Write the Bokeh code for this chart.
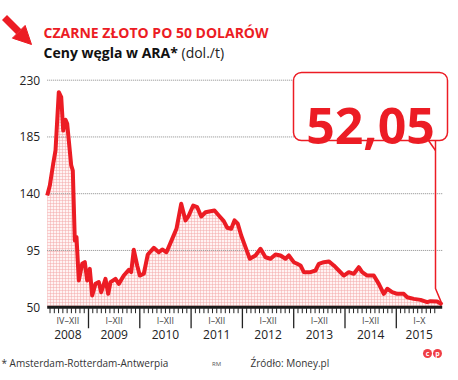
import numpy as np
from bokeh.plotting import figure
from bokeh.models import Arrow, NormalHead
from bokeh.core.properties import value
from bokeh.embed import file_html
from bokeh.resources import INLINE

# ---------------- data ----------------
title = "CZARNE ZŁOTO PO 50 DOLARÓW"
subtitle_bold = "Ceny węgla w ARA*"
subtitle_unit = "(dol./t)"
footnote = "* Amsterdam-Rotterdam-Antwerpia"
author = "RM"
source = "Źródło: Money.pl"

# time in decimal years, coal price in USD/t (ARA)
t = [2008.195, 2008.246, 2008.312, 2008.357, 2008.421, 2008.468, 2008.507, 2008.552,
     2008.585, 2008.616, 2008.663, 2008.694, 2008.733, 2008.766, 2008.811, 2008.877,
     2008.928, 2008.975, 2009.025, 2009.072, 2009.136, 2009.201, 2009.248, 2009.331,
     2009.384, 2009.429, 2009.526, 2009.591, 2009.688, 2009.786, 2009.832, 2009.883,
     2009.949, 2010.000, 2010.078, 2010.156, 2010.273, 2010.370, 2010.437, 2010.520,
     2010.632, 2010.715, 2010.807, 2010.891, 2010.955, 2011.041, 2011.119, 2011.197,
     2011.281, 2011.378, 2011.456, 2011.540, 2011.637, 2011.704, 2011.782, 2011.846,
     2011.910, 2011.977, 2012.060, 2012.144, 2012.255, 2012.353, 2012.450, 2012.548,
     2012.645, 2012.743, 2012.840, 2012.905, 2013.002, 2013.068, 2013.133, 2013.197,
     2013.327, 2013.425, 2013.489, 2013.587, 2013.684, 2013.782, 2013.879, 2013.977,
     2014.074, 2014.172, 2014.269, 2014.335, 2014.433, 2014.561, 2014.659, 2014.756,
     2014.823, 2014.920, 2015.018, 2015.146, 2015.212, 2015.341, 2015.472, 2015.602,
     2015.667, 2015.797, 2015.895]
price = [138.6, 146.5, 163.7, 174.3, 220.5, 216.5, 190.1, 198.6,
         195.4, 182.2, 162.4, 158.4, 102.9, 105.6, 71.2, 84.4,
         85.7, 71.2, 80.4, 59.3, 68.5, 69.9, 61.9, 72.5,
         60.6, 69.9, 72.5, 68.5, 75.1, 79.6, 77.8, 95.5,
         83.1, 75.1, 76.5, 91.8, 97.1, 93.6, 95.8, 93.6,
         104.2, 112.2, 132.0, 118.8, 122.7, 130.6, 129.3, 121.9,
         125.3, 126.1, 126.7, 122.7, 118.2, 113.0, 112.2, 118.8,
         116.2, 106.9, 97.6, 88.4, 91.0, 96.3, 89.6, 88.4,
         91.8, 91.0, 88.4, 91.0, 85.7, 84.4, 83.1, 77.8,
         77.8, 79.1, 84.4, 85.7, 86.3, 83.1, 79.1, 75.1,
         77.8, 76.5, 81.7, 77.8, 75.1, 75.1, 68.5, 60.6,
         64.6, 62.0, 60.6, 60.6, 57.9, 56.6, 55.8, 54.0,
         54.8, 54.5, 52.05]

years = [2008, 2009, 2010, 2011, 2012, 2013, 2014, 2015]
year_months = ["IV–XII", "I–XII", "I–XII", "I–XII", "I–XII", "I–XII", "I–XII", "I–X"]
y_ticks = [50, 95, 140, 185, 230]

# ---------------- layout helpers ----------------
W, H = 458, 380
PX_YEAR = 51.3          # pixels per year
PX_UNIT = 227.0 / 180   # pixels per USD
XL = 2009 - 88 / PX_YEAR
YT = 50 + 306.7 / PX_UNIT
x_range = (XL, XL + W / PX_YEAR)
y_range = (YT - H / PX_UNIT, YT)

def sx(X):  # picture pixel -> data x
    return XL + X / PX_YEAR

def sy(Y):  # picture pixel -> data y
    return YT - Y / PX_UNIT

RED = "#ec1c24"
FONT = value("Open Sans")

p = figure(width=W, height=H, x_range=x_range, y_range=y_range,
           output_backend="svg", toolbar_location=None, min_border=0,
           x_axis_location=None, y_axis_location=None,
           outline_line_color=None, background_fill_color="white",
           border_fill_color="white")
p.xgrid.visible = False
p.ygrid.visible = False

t0, t1 = t[0], t[-1]
base = y_ticks[0]

# area fill
p.varea(x=t, y1=[base] * len(t), y2=price, fill_color="#fff3f3",
        hatch_pattern="+", hatch_color="#f3aaaa", hatch_scale=3,
        hatch_weight=0.6, hatch_alpha=0.85)

# dotted grid lines
grid_vals = y_ticks[1:]
p.segment(x0=[t0] * len(grid_vals), x1=[t1] * len(grid_vals),
          y0=grid_vals, y1=grid_vals, line_color="#8a8a8a",
          line_width=1, line_dash="1 1")

# price line
p.line(t, price, line_color=RED, line_width=4, line_join="round")

# baseline and ticks
p.segment(x0=[t0], x1=[t1], y0=[base], y1=[base], line_color="#1a1a1a", line_width=3)
months = [m for m in np.arange(2008.25, 2015.76, 1 / 12) if abs(m - round(m)) > 1e-6]
p.segment(x0=months, x1=months, y0=[base] * len(months),
          y1=[base - 6 / PX_UNIT] * len(months), line_color="#222", line_width=1)
seps = years[1:]
p.segment(x0=seps, x1=seps, y0=[base] * len(seps),
          y1=[base - 21 / PX_UNIT] * len(seps), line_color="#222", line_width=1.3)

# x labels
mids = [(max(y, t0) + min(y + 1, t1)) / 2 for y in years]
p.text(x=mids, y=[sy(320)] * len(mids), text=year_months, text_font=FONT,
       text_font_size="9px", text_color="#444", text_align="center",
       text_baseline="middle")
p.text(x=mids, y=[sy(334)] * len(mids), text=[str(y) for y in years], text_font=FONT,
       text_font_size="12px", text_color="#222", text_align="center",
       text_baseline="middle")

# y labels
p.text(x=[t0] * len(y_ticks), y=y_ticks, text=[str(v) for v in y_ticks],
       x_offset=-7, text_font=FONT, text_font_size="12px", text_color="#222",
       text_align="right", text_baseline="middle")

# callout box with last value
p.quad(left=[sx(293)], right=[sx(447)], top=[sy(72)], bottom=[sy(140)],
       fill_color="white", line_color=RED, line_width=1.5, border_radius=8)
p.line([sx(435), sx(435), t1], [sy(140), sy(288), price[-1]],
       line_color=RED, line_width=1.5)
p.line([sx(428), sx(435)], [sy(140), sy(150)], line_color=RED, line_width=1.5)
p.text(x=[sx(370)], y=[sy(125)], text=[f"{price[-1]:.2f}".replace(".", ",")],
       text_font=FONT, text_font_size="50px", text_font_style="bold",
       text_color=RED, text_align="center", text_baseline="alphabetic")

# title & subtitle
p.text(x=[sx(43)], y=[sy(32)], text=[title], text_font=FONT, text_font_size="14px",
       text_font_style="bold", text_color=RED, text_baseline="alphabetic")
p.text(x=[sx(43)], y=[sy(52)], text=[subtitle_bold], text_font=FONT,
       text_font_size="14px", text_font_style="bold", text_color="#111",
       text_baseline="alphabetic")
p.text(x=[sx(43)], y=[sy(52)], text=[subtitle_unit], x_offset=138, text_font=FONT,
       text_font_size="14px", text_color="#222", text_baseline="alphabetic")

# red arrow icon
p.add_layout(Arrow(end=NormalHead(size=18, fill_color=RED, line_color=RED),
                   x_start=sx(4), y_start=sy(17), x_end=sx(31), y_end=sy(44),
                   line_color=RED, line_width=7))

# footer
p.text(x=[sx(1)], y=[sy(362)], text=[footnote], text_font=FONT, text_font_size="10px",
       text_color="#333", text_baseline="middle")
p.text(x=[sx(216)], y=[sy(363)], text=[author], text_font=FONT, text_font_size="6px",
       text_color="#555", text_align="center", text_baseline="middle")
p.text(x=[sx(250)], y=[sy(362)], text=[source], text_font=FONT, text_font_size="10px",
       text_color="#333", text_baseline="middle")
p.scatter(x=[sx(427), sx(437)], y=[sy(353)] * 2, size=9, marker="circle",
          fill_color=RED, line_color=None, alpha=0.85)
p.text(x=[sx(427), sx(437)], y=[sy(353)] * 2, text=["c", "p"], text_font=FONT,
       text_font_size="7px", text_font_style="bold", text_color="white",
       text_align="center", text_baseline="middle")

open("out.html", "w").write(file_html(p, INLINE))
